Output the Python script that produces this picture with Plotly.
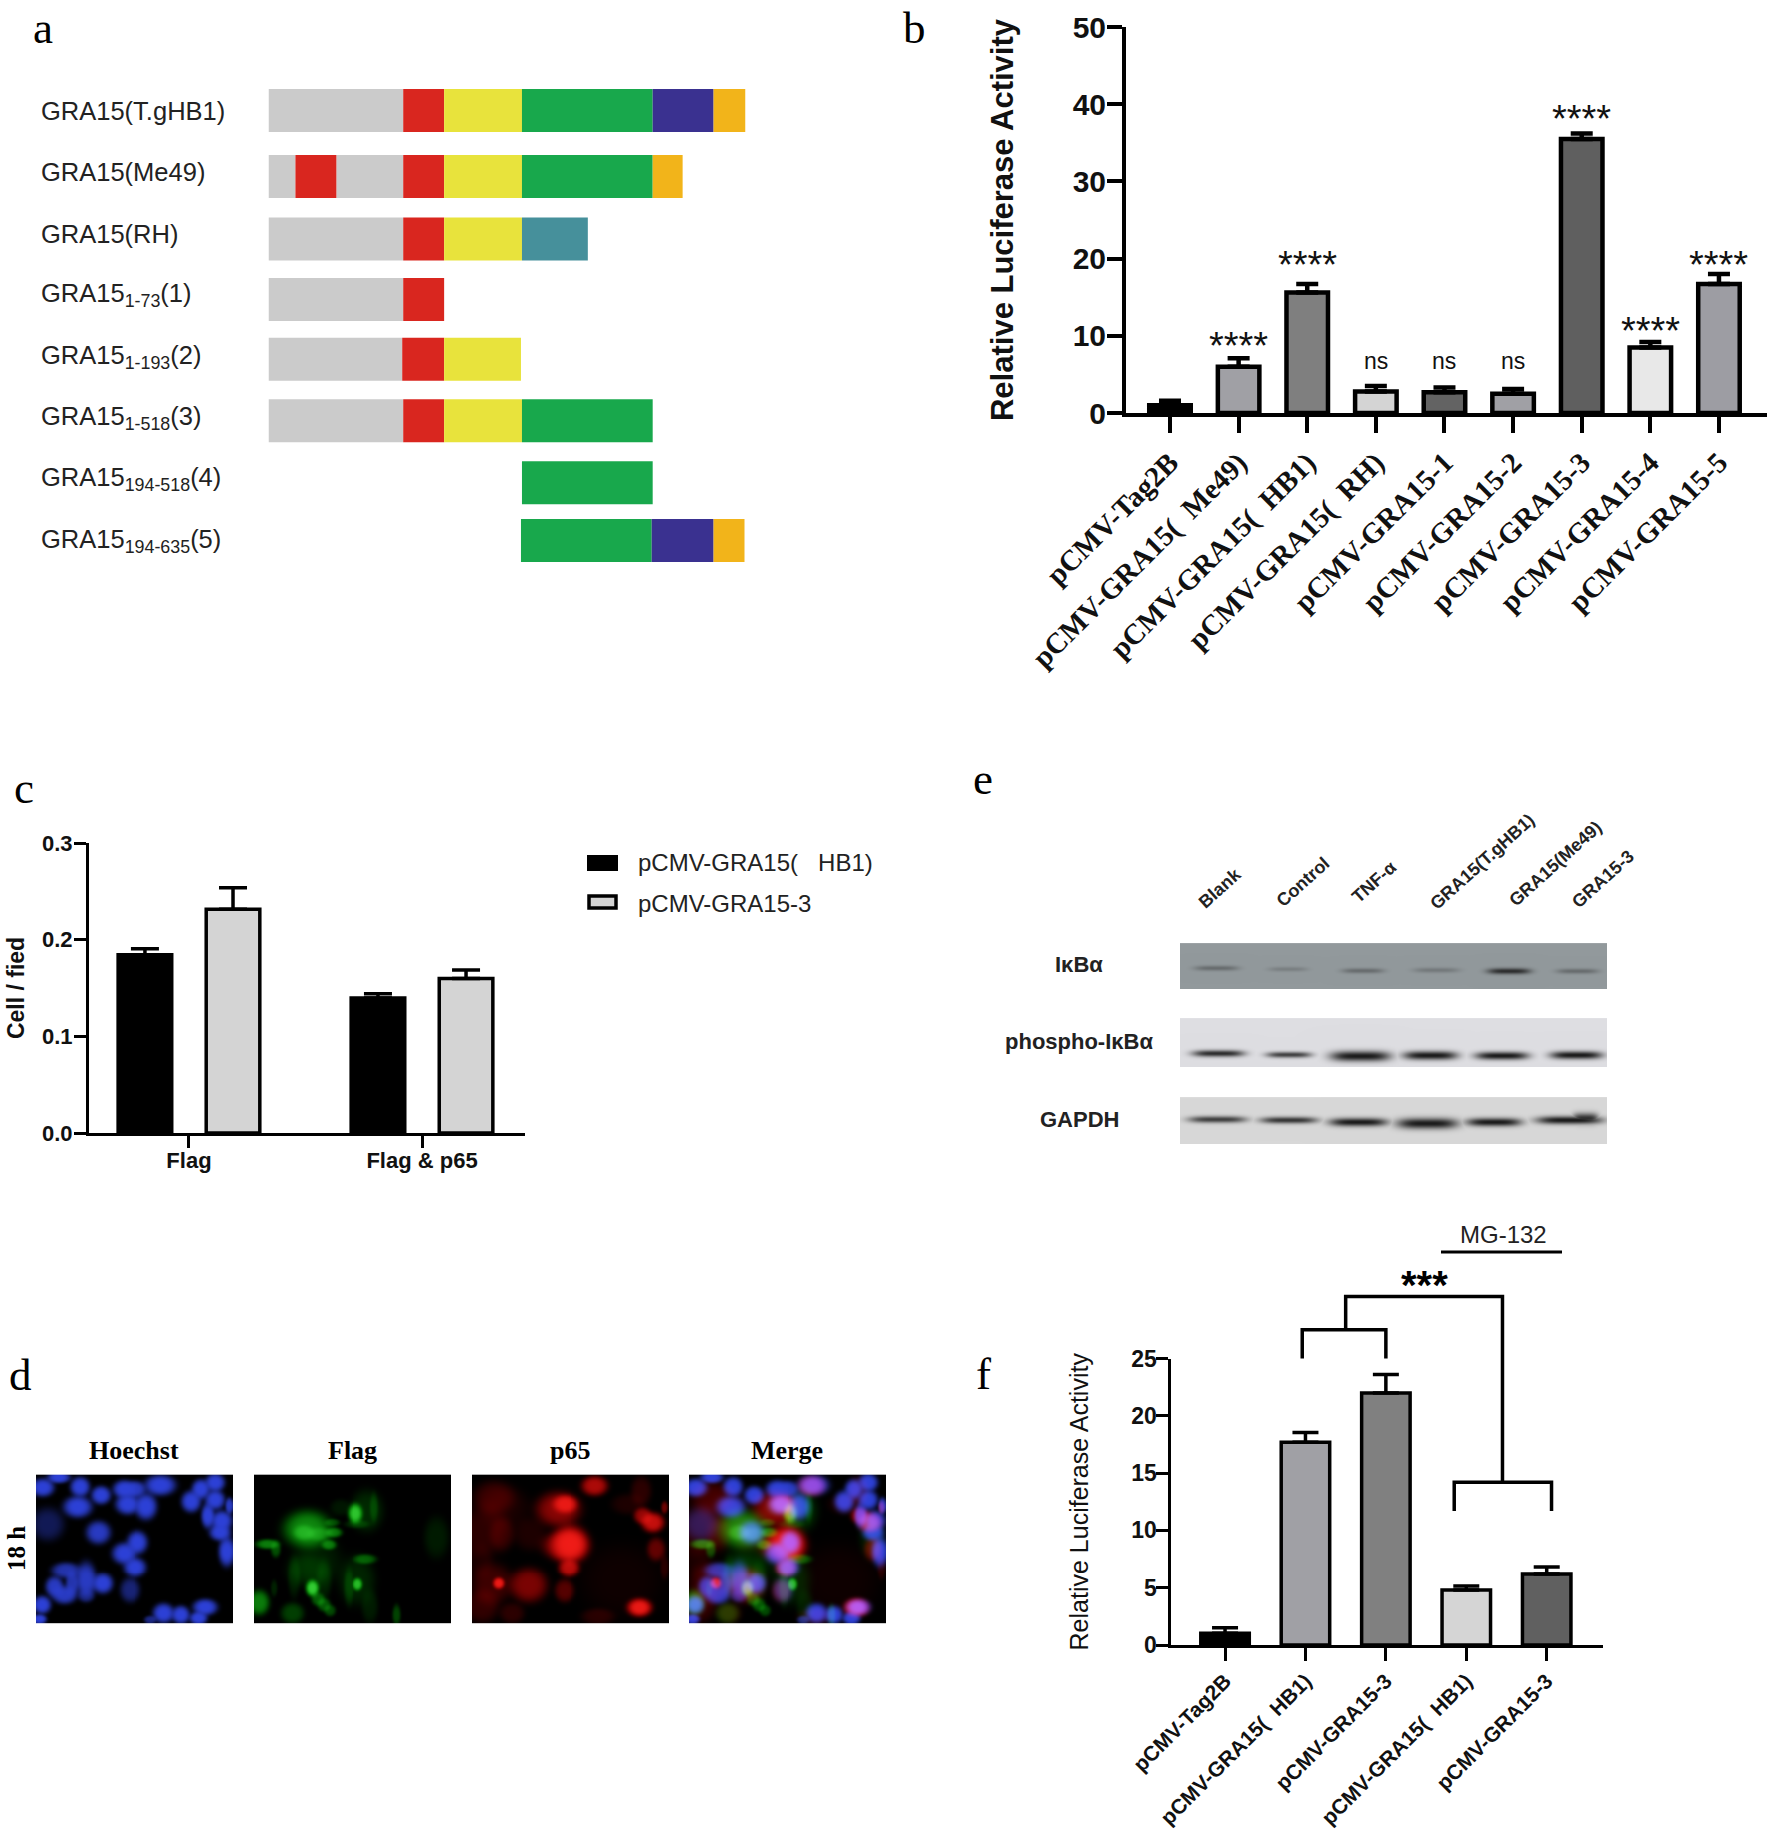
import numpy as np
import plotly.graph_objects as go

W, H = 1770, 1833
SANS = "Liberation Sans"
SERIF = "Liberation Serif"
NB = "\u00a0"

# ---------- panel a : domain schematic ----------
a_labels = ["GRA15(T.gHB1)", "GRA15(Me49)", "GRA15(RH)", "GRA15<sub>1-73</sub>(1)", "GRA15<sub>1-193</sub>(2)",
            "GRA15<sub>1-518</sub>(3)", "GRA15<sub>194-518</sub>(4)", "GRA15<sub>194-635</sub>(5)"]
a_rows = [0, 1.074, 2.092, 3.077, 4.05, 5.05, 6.06, 7]
a_segments = [
    [("grey", 0, 135), ("red", 135, 176), ("yellow", 176, 254), ("green", 254, 385), ("blue", 385, 446), ("orange", 446, 478)],
    [("grey", 0, 27), ("red", 27, 68), ("grey", 68, 135), ("red", 135, 176), ("yellow", 176, 254), ("green", 254, 385), ("orange", 385, 415)],
    [("grey", 0, 135), ("red", 135, 176), ("yellow", 176, 254), ("teal", 254, 320)],
    [("grey", 0, 135), ("red", 135, 176)],
    [("grey", 0, 134), ("red", 134, 176), ("yellow", 176, 253)],
    [("grey", 0, 135), ("red", 135, 176), ("yellow", 176, 254), ("green", 254, 385)],
    [("green", 254, 385)],
    [("green", 253, 384), ("blue", 384, 446), ("orange", 446, 477)],
]
a_colors = {"grey": "#cbcbcb", "red": "#d9261f", "yellow": "#e8e33c", "green": "#18a84c",
            "blue": "#3a3190", "orange": "#f2b41a", "teal": "#46909b"}

# ---------- panel b ----------
b_cats = ["pCMV-Tag2B", "pCMV-GRA15(" + NB + NB + "Me49)", "pCMV-GRA15(" + NB + NB + "HB1)", "pCMV-GRA15(" + NB + NB + "RH)", "pCMV-GRA15-1",
          "pCMV-GRA15-2", "pCMV-GRA15-3", "pCMV-GRA15-4", "pCMV-GRA15-5"]
b_vals = [1.0, 6.0, 15.6, 2.8, 2.7, 2.5, 35.5, 8.5, 16.7]
b_err = [0.6, 1.1, 1.1, 0.7, 0.6, 0.6, 0.7, 0.7, 1.3]
b_fill = ["#000000", "#a0a0a5", "#7f7f7f", "#d4d4d4", "#636363", "#a0a0a5", "#5f5f5f", "#e8e8e8", "#9d9da3"]
b_marks = ["", "****", "****", "ns", "ns", "ns", "****", "****", "****"]
b_mark_y = [None, 9.4, 20.0, 6.8, 6.8, 6.8, 38.9, 11.4, 20.0]

# ---------- panel c ----------
c_cats = ["Flag", "Flag & p65"]
c_hb1 = [0.1845, 0.1397]
c_hb1_err = [0.0062, 0.0044]
c_g3 = [0.2314, 0.1597]
c_g3_err = [0.0224, 0.0089]

# ---------- panel f ----------
f_cats = ["pCMV-Tag2B", "pCMV-GRA15(" + NB + NB + "HB1)", "pCMV-GRA15-3", "pCMV-GRA15(" + NB + NB + "HB1)", "pCMV-GRA15-3"]
f_vals = [1.03, 17.7, 22.0, 4.8, 6.2]
f_err = [0.47, 0.85, 1.6, 0.35, 0.6]
f_fill = ["#000000", "#a0a0a5", "#808080", "#d5d5d5", "#606060"]
f_br_x = [0.96, 0.96, 2.0, 2.0]
f_br_y = [25.0, 27.5, 27.5, 25.0]
f_br2_x = [2.85, 2.85, 4.06, 4.06]
f_br2_y = [11.7, 14.2, 14.2, 11.7]
f_stem_x = [1.5, 1.5, 3.45, 3.45]
f_stem_y = [27.5, 30.4, 30.4, 14.2]

# ---------- panel e : blot bands (centre x, half width, centre y, half height, strength) ----------
e_lanes = ["Blank", "Control", "TNF-α", "GRA15(T.gHB1)", "GRA15(Me49)", "GRA15-3"]
e_rows = ["IκBα", "phospho-IκBα", "GAPDH"]
e_ikb = [(36, 22, 24.7, 2.6, .35), (108, 20, 25.7, 2.4, .2), (183.5, 21, 27.3, 2.6, .35),
         (257, 23, 26.7, 2.6, .25), (330, 22, 27.7, 3.0, .85), (399, 21, 27.7, 2.6, .35)]
e_pho = [(38, 26, 35, 3.4, .9), (109, 23, 36.3, 3.0, .8), (181, 30, 37.7, 5.2, 1.0),
         (251, 27, 37, 4.4, 1.0), (323, 27, 37.3, 4.0, 1.0), (398, 26, 36.7, 4.0, 1.0)]
e_gap = [(37, 29, 22, 3.4, .8), (109, 29, 22.7, 3.4, .85), (179, 29, 24.7, 4.2, 1.0),
         (248, 30.5, 26, 5.4, 1.0), (315, 28, 24.7, 4.2, 1.0), (391, 33, 22.7, 4.0, 1.0), (407, 13, 21, 5.4, .9)]

# ---------- panel d : fluorescent blobs (x, y, half width, half height, strength), 3x image coordinates ----------
d_titles = ["Hoechst", "Flag", "p65", "Merge"]
d_blue = [(20, 40, 28, 22, 1), (68, 10, 28, 14, 1), (132, 38, 24, 24, 1), (195, 63, 24, 22, 1), (125, 98, 35, 26, 1),
          (265, 45, 28, 22, 1), (300, 45, 25, 20, .9), (275, 90, 30, 25, 1), (332, 97, 27, 32, 1), (375, 33, 38, 25, 1),
          (468, 82, 24, 26, 1), (497, 45, 22, 24, 1), (540, 25, 24, 22, 1), (540, 77, 24, 24, 1), (518, 125, 16, 30, 1),
          (560, 140, 26, 25, 1), (555, 175, 26, 20, 1), (583, 95, 10, 20, .9), (575, 232, 20, 36, 1), (35, 150, 40, 40, .4),
          (187, 175, 30, 28, .9), (305, 205, 26, 28, 1), (265, 238, 30, 26, 1), (298, 280, 28, 24, 1), (283, 350, 25, 30, .55),
          (90, 290, 35, 20, .8), (55, 340, 22, 25, .9), (85, 365, 30, 22, .9), (108, 330, 16, 30, .8), (150, 320, 25, 45, .9),
          (200, 330, 25, 25, 1), (150, 368, 20, 15, .45), (18, 395, 22, 22, 1), (10, 438, 18, 12, 1), (385, 420, 26, 24, 1),
          (437, 425, 22, 22, 1), (510, 402, 30, 20, 1), (490, 435, 22, 16, 1), (345, 440, 15, 10, .6)]
d_green = [(160, 165, 58, 45, .6), (150, 175, 25, 18, .5), (195, 180, 28, 16, .35), (240, 175, 20, 12, .5), (225, 212, 18, 12, .5), (235, 145, 18, 9, .3),
           (40, 210, 28, 12, .55), (65, 225, 12, 20, .35), (305, 118, 18, 24, .85), (340, 110, 40, 50, .18), (362, 100, 10, 35, .2), (310, 150, 30, 10, .2),
           (175, 345, 16, 20, .9), (190, 260, 60, 60, .12), (192, 378, 16, 16, .4), (210, 395, 16, 16, .38), (228, 412, 14, 14, .32),
           (115, 420, 28, 25, .28), (15, 388, 25, 30, .55), (312, 333, 12, 15, .8), (335, 255, 28, 12, .4), (310, 320, 45, 60, .16),
           (550, 190, 30, 50, .12), (430, 425, 10, 25, .3), (350, 400, 20, 40, .12), (260, 100, 25, 20, .1), (160, 290, 50, 40, .14),
           (60, 345, 8, 20, .15), (285, 340, 12, 45, .18), (120, 310, 15, 50, .14), (210, 320, 18, 50, .14)]
d_red = [(280, 90, 30, 22, .9), (260, 105, 55, 42, .55), (370, 35, 32, 24, .7), (295, 210, 45, 45, .95), (280, 215, 55, 35, .55),
         (292, 282, 26, 22, .75), (80, 330, 14, 14, .95), (170, 335, 45, 42, .5), (60, 330, 50, 50, .25), (278, 352, 24, 28, .35),
         (505, 403, 30, 22, .95), (545, 145, 28, 24, .8), (515, 125, 22, 20, .6), (555, 225, 22, 28, .4), (65, 70, 50, 40, .22),
         (35, 170, 60, 60, .18), (90, 180, 30, 40, .16), (175, 180, 40, 40, .12), (30, 400, 40, 40, .2), (580, 100, 8, 15, .45),
         (510, 50, 25, 35, .18), (120, 420, 30, 25, .18), (380, 430, 40, 20, .16), (470, 90, 40, 25, .12), (450, 320, 100, 90, .06),
         (580, 280, 10, 30, .16), (25, 260, 30, 40, .1), (100, 100, 60, 50, .1)]


def xd(a, b):
    return [a / W, b / W]


def yd(top, bottom):
    return [1 - bottom / H, 1 - top / H]


def soften(f, passes=2):
    for _ in range(passes):
        p = np.pad(f, 1, mode="edge")
        f = (4 * p[1:-1, 1:-1] + p[:-2, 1:-1] + p[2:, 1:-1] + p[1:-1, :-2] + p[1:-1, 2:]) / 8
    return f


def blob_field(blobs, w=198, h=150):
    yy, xx = np.mgrid[0:h, 0:w]
    xx = xx * 3 + 1.0
    yy = yy * 3 + 1.0
    f = np.zeros((h, w))
    for cx, cy, rx, ry, a in blobs:
        r2 = ((xx - cx) / rx) ** 2 + ((yy - cy) / ry) ** 2
        f = 1 - (1 - f) * (1 - a * np.exp(-np.minimum((r2 / 1.5) ** 2, 50)))
    return soften(f)


def rgb(b=None, g=None, r=None):
    shape = next(c for c in (b, g, r) if c is not None).shape
    zero = np.zeros(shape)
    b = zero if b is None else b
    g = zero if g is None else g
    r = zero if r is None else r
    R = 245 * r * (1 - 0.4 * b) + 45 * b + 70 * g ** 3
    G = 225 * g * (1 - 0.45 * b) * (1 - 0.3 * r) + 65 * b + 30 * r ** 3
    B = 215 * b + 70 * g ** 3 * (1 - r) + 25 * r ** 3
    return np.clip(np.dstack([R, G, B]), 0, 255).astype(np.uint8)


def blot(bands, bg, w, h):
    yy, xx = np.mgrid[0:h, 0:w]
    f = np.zeros((h, w))
    for cx, rx, cy, ry, a in bands:
        f = np.maximum(f, a * np.exp(-((xx - cx) / rx) ** 4) * np.exp(-((yy - cy) / ry) ** 2))
    img = np.zeros((h, w, 3))
    for i in range(3):
        img[:, :, i] = bg[i] * (1 - f) + 28 * f
    return img.astype(np.uint8)


fig = go.Figure()
layout = {}
ann = []
shapes = []
axis_count = 0


def new_axes(xdom, ydom, xrange, yrange, xextra=None, yextra=None):
    global axis_count
    axis_count += 1
    sfx = "" if axis_count == 1 else str(axis_count)
    base = dict(showgrid=False, zeroline=False, showline=False, showticklabels=False, ticks="", fixedrange=True)
    xa = dict(base, domain=xdom, range=xrange, anchor="y" + sfx)
    ya = dict(base, domain=ydom, range=yrange, anchor="x" + sfx)
    xa.update(xextra or {})
    ya.update(yextra or {})
    layout["xaxis" + sfx] = xa
    layout["yaxis" + sfx] = ya
    return "x" + sfx, "y" + sfx


def text(x, y, t, size, family=SANS, bold=False, angle=0, xanchor="center", color="#1a1a1a"):
    ann.append(dict(x=x / W, y=1 - y / H, xref="paper", yref="paper", text=t, showarrow=False, xanchor=xanchor,
                    yanchor="middle", textangle=angle, font=dict(size=size, family=family, color=color,
                                                                 weight="bold" if bold else "normal")))


def chart_axes(lw, tl, tw):
    return dict(showline=True, linecolor="black", linewidth=lw, ticks="outside", ticklen=tl, tickwidth=tw, tickcolor="black")


# panel labels
for lab, x, y in [("a", 43, 28), ("b", 915, 28), ("c", 24, 788), ("d", 20, 1375), ("e", 983, 779), ("f", 983, 1374)]:
    text(x, y, lab, 45, SERIF, color="black")

# ----- a -----
xa, ya = new_axes(xd(268.5, 745.5), yd(60, 600), [0, 478], [7.969, -0.822])
groups = {}
for row, segs in zip(a_rows, a_segments):
    for name, s, e in segs:
        groups.setdefault(name, []).append((row, s, e))
for name, items in groups.items():
    fig.add_trace(go.Bar(orientation="h", y=[i[0] for i in items], base=[i[1] for i in items],
                         x=[i[2] - i[1] for i in items], width=0.7, marker=dict(color=a_colors[name], line_width=0),
                         xaxis=xa, yaxis=ya, name=name, showlegend=False))
for i, lab in enumerate(a_labels):
    text(39, 111 + 61.4 * i, lab, 25.5, SANS, xanchor="left", color="#222")

# ----- b -----
xa, ya = new_axes(xd(1126, 1767), yd(27, 413), [-0.641, 8.70], [0, 50],
                  dict(chart_axes(4, 16, 4), showticklabels=True, tickvals=list(range(9)), ticktext=b_cats, tickangle=-45,
                       tickfont=dict(family=SERIF, size=29, color="#111", weight="bold"), ticklabelstandoff=1),
                  dict(chart_axes(4, 15, 4), showticklabels=True, tickvals=[0, 10, 20, 30, 40, 50], ticklabelstandoff=-5,
                       tickfont=dict(family=SANS, size=30, color="#111", weight="bold"),
                       title=dict(text="Relative Luciferase Activity", standoff=51,
                                  font=dict(family=SANS, size=31, color="#111", weight="bold"))))
fig.add_trace(go.Bar(x=list(range(9)), y=b_vals, width=0.605, marker=dict(color=b_fill, line=dict(color="black", width=4.5)),
                     error_y=dict(type="data", symmetric=False, array=b_err, arrayminus=[0] * 9, color="black", thickness=4.5, width=11),
                     xaxis=xa, yaxis=ya, showlegend=False, name="Relative Luciferase Activity"))
for i, (m, y) in enumerate(zip(b_marks, b_mark_y)):
    if not m:
        continue
    star = m == "****"
    ann.append(dict(x=i, y=y, xref=xa, yref=ya, text=m, showarrow=False, yanchor="middle", yshift=-6 if star else 0,
                    font=dict(family=SANS, size=38 if star else 23, color="#111")))

# ----- c -----
xa, ya = new_axes(xd(89, 525), yd(843, 1133), [-0.429, 1.442], [0, 0.3],
                  dict(chart_axes(3, 12, 2.5), showticklabels=True, tickvals=[0, 1], ticktext=c_cats, ticklabelstandoff=-6,
                       tickfont=dict(family=SANS, size=22, color="#111", weight="bold")),
                  dict(chart_axes(3, 12, 2.5), showticklabels=True, tickvals=[0, 0.1, 0.2, 0.3], tickformat=".1f", ticklabelstandoff=-3,
                       tickfont=dict(family=SANS, size=22, color="#111", weight="bold"),
                       title=dict(text="Cell / fied", standoff=11, font=dict(family=SANS, size=23, color="#111", weight="bold"))))
fig.add_trace(go.Bar(x=[0, 1], y=c_hb1, width=0.23, offset=-0.304, marker=dict(color="black", line=dict(color="black", width=3.5)),
                     error_y=dict(type="data", symmetric=False, array=c_hb1_err, arrayminus=[0, 0], color="black", thickness=3.5, width=14),
                     xaxis=xa, yaxis=ya, showlegend=False, name="pCMV-GRA15( HB1)"))
fig.add_trace(go.Bar(x=[0, 1], y=c_g3, width=0.23, offset=0.074, marker=dict(color="#d4d4d4", line=dict(color="black", width=3.5)),
                     error_y=dict(type="data", symmetric=False, array=c_g3_err, arrayminus=[0, 0], color="black", thickness=3.5, width=14),
                     xaxis=xa, yaxis=ya, showlegend=False, name="pCMV-GRA15-3"))
shapes.append(dict(type="rect", xref="paper", yref="paper", x0=587 / W, x1=618 / W, y0=1 - 871 / H, y1=1 - 855 / H,
                   fillcolor="black", line=dict(color="black", width=0)))
shapes.append(dict(type="rect", xref="paper", yref="paper", x0=589 / W, x1=616 / W, y0=1 - 908 / H, y1=1 - 896 / H,
                   fillcolor="#d4d4d4", line=dict(color="black", width=3.5)))
text(636, 863, "pCMV-GRA15(" + NB * 3 + "HB1)", 24, xanchor="left", color="#222")
text(636, 903, "pCMV-GRA15-3", 24, xanchor="left", color="#222")

# ----- d -----
blue = blob_field(d_blue)
green = blob_field(d_green)
red = blob_field(d_red)
d_images = [rgb(b=blue), rgb(g=green), rgb(r=red), rgb(b=blue, g=green, r=red)]
d_lefts = [36, 254, 472, 689]
for left, img, title in zip(d_lefts, d_images, d_titles):
    xa, ya = new_axes(xd(left, left + 197), yd(1474, 1624), [-0.5, 197.5], [149.5, -0.5])
    fig.add_trace(go.Image(z=img.tolist(), xaxis=xa, yaxis=ya, name=title, hoverinfo="skip"))
    text(left + 98, 1450, title, 26, SERIF, bold=True, color="black")
text(16, 1549, "18 h", 25, SERIF, bold=True, angle=-90, color="black")

# ----- e -----
for bands, bg, top, bot, lab in [(e_ikb, (146, 153, 156), 943, 989, e_rows[0]),
                                 (e_pho, (222, 222, 226), 1018, 1067, e_rows[1]),
                                 (e_gap, (216, 216, 216), 1097, 1144, e_rows[2])]:
    h = bot - top
    xa, ya = new_axes(xd(1180, 1607), yd(top, bot), [-0.5, 428.5], [h - 0.5, -0.5])
    fig.add_trace(go.Image(z=blot(bands, bg, 429, h).tolist(), xaxis=xa, yaxis=ya, name=lab, hoverinfo="skip"))
    text(1079, (top + bot) / 2 - 1, lab, 22, SANS, bold=True, color="#222")
for lab, x, y in zip(e_lanes, [1220, 1303, 1374, 1482, 1555, 1603], [888, 882, 882, 862, 864, 879]):
    text(x, y, lab, 18, SANS, bold=True, angle=-42, color="#222")

# ----- f -----
xa, ya = new_axes(xd(1171, 1603), yd(1358.5, 1645), [-0.672, 4.70], [0, 25],
                  dict(chart_axes(3, 12.5, 2.5), showticklabels=True, tickvals=list(range(5)), ticktext=f_cats, tickangle=-45,
                       tickfont=dict(family=SANS, size=21, color="#111", weight="bold"), ticklabelstandoff=0),
                  dict(chart_axes(3, 12.5, 2.5), showticklabels=True, tickvals=[0, 5, 10, 15, 20, 25], ticklabelstandoff=-6,
                       tickfont=dict(family=SANS, size=23, color="#111", weight="bold"),
                       title=dict(text="Relative Luciferase Activity", standoff=36,
                                  font=dict(family=SANS, size=25, color="#111"))))
fig.add_trace(go.Bar(x=list(range(5)), y=f_vals, width=0.603, marker=dict(color=f_fill, line=dict(color="black", width=3.5)),
                     error_y=dict(type="data", symmetric=False, array=f_err, arrayminus=[0] * 5, color="black", thickness=3.5, width=13),
                     xaxis=xa, yaxis=ya, showlegend=False, name="Relative Luciferase Activity"))
# brackets sit above the bar axis, on a taller hidden axis with the same data scale
xb, yb = new_axes(xd(1171, 1603), yd(1289, 1645), [-0.672, 4.70], [0, 31.06])
for bx, by in [(f_br_x, f_br_y), (f_br2_x, f_br2_y), (f_stem_x, f_stem_y)]:
    fig.add_trace(go.Scatter(x=bx, y=by, mode="lines", line=dict(color="black", width=3.5), xaxis=xb, yaxis=yb,
                             showlegend=False, hoverinfo="skip"))
text(1424, 1285, "***", 40, SANS, bold=True, color="black")
text(1503, 1234, "MG-132", 24, SANS, color="#222")
shapes.append(dict(type="line", xref="paper", yref="paper", x0=1441 / W, x1=1562 / W, y0=1 - 1252 / H, y1=1 - 1252 / H,
                   line=dict(color="black", width=3)))

fig.update_layout(width=W, height=H, autosize=False, margin=dict(l=0, r=0, t=0, b=0, autoexpand=False), paper_bgcolor="white",
                  plot_bgcolor="rgba(0,0,0,0)", barmode="overlay", showlegend=False, annotations=ann, shapes=shapes, **layout)
fig.write_html("out.html", post_script="document.body.style.margin='0';document.documentElement.style.overflow='hidden';",
               config={"displayModeBar": False})
